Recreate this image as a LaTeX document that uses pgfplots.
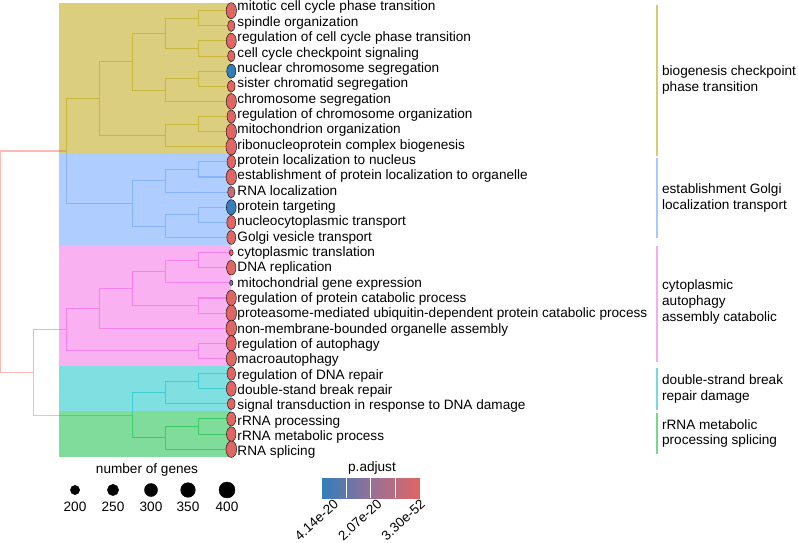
\documentclass[border=0pt]{standalone}
\usepackage{pgfplots}
\pgfplotsset{compat=1.18}
\usepackage{fontspec}
\setmainfont{Liberation Sans}
\definecolor{cRoot}{HTML}{F8766D}
\definecolor{cYel}{HTML}{B79F00}
\definecolor{cGre}{HTML}{00BA38}
\definecolor{cCya}{HTML}{00BFC4}
\definecolor{cBlu}{HTML}{619CFF}
\definecolor{cPin}{HTML}{F564E3}
\newcommand\fs{\fontsize{13.6}{15.6}\selectfont}
\pgfplotsset{colormap={pv}{rgb255(0cm)=(224,102,99); rgb255(0.5cm)=(149,113,150); rgb255(1cm)=(50,126,186)}}
\begin{document}
\begin{tikzpicture}
\begin{axis}[
  set layers=standard,
  at={(0.3pt,85.26pt)}, anchor=south west,
  scale only axis, width=231pt, height=453.6pt,
  xmin=0, xmax=7, ymin=0.5, ymax=30.5, y dir=reverse,
  clip=false,
  axis line style={draw=none}, tick style={draw=none},
  xtick=\empty,
  ytick={1.0198,2.0344,3.0489,4.0635,5.0780,6.0926,7.1071,8.1217,9.1362,10.1508,11.1653,12.1799,13.1944,14.2090,15.2235,16.2381,17.2526,18.2672,19.2817,20.2963,21.3108,22.3254,23.3399,24.3545,25.3690,26.3836,27.3981,28.4127,29.4272,30.4418},
  yticklabels={mitotic cell cycle phase transition,spindle organization,regulation of cell cycle phase transition,cell cycle checkpoint signaling,nuclear chromosome segregation,sister chromatid segregation,chromosome segregation,regulation of chromosome organization,mitochondrion organization,ribonucleoprotein complex biogenesis,protein localization to nucleus,establishment of protein localization to organelle,RNA localization,protein targeting,nucleocytoplasmic transport,Golgi vesicle transport,cytoplasmic translation,DNA replication,mitochondrial gene expression,regulation of protein catabolic process,proteasome-mediated ubiquitin-dependent protein catabolic process,non-membrane-bounded organelle assembly,regulation of autophagy,macroautophagy,regulation of DNA repair,double-stand break repair,signal transduction in response to DNA damage,rRNA processing,rRNA metabolic process,RNA splicing},
  yticklabel pos=right,
  yticklabel style={anchor=base west, inner xsep=0pt, xshift=6pt, font=\fs},
  unbounded coords=jump,
  colormap name=pv,
  point meta min=0, point meta max=4.68,
]
% ---- tree edges (elbows: parent -> child), coloured by child's cluster
\addplot[cRoot, draw opacity=0.5, line width=1.1pt] coordinates {
(0,17.6015625) (0,10.28125) (2,10.28125) (nan,nan)
(0,17.6015625) (0,24.921875) (1,24.921875) (nan,nan)
(1,24.921875) (1,27.75) (4,27.75)
};
\addplot[cYel, draw opacity=0.5, line width=1.1pt] coordinates {
(2,10.28125) (2,6.8125) (3,6.8125) (nan,nan)
(3,6.8125) (3,4.375) (4,4.375) (nan,nan)
(3,6.8125) (3,9.25) (5,9.25) (nan,nan)
(4,4.375) (4,2.5) (5,2.5) (nan,nan)
(4,4.375) (4,6.25) (5,6.25) (nan,nan)
(5,2.5) (5,1.5) (6,1.5) (nan,nan)
(5,2.5) (5,3.5) (6,3.5) (nan,nan)
(6,1.5) (6,1) (7,1) (nan,nan)
(6,1.5) (6,2) (7,2) (nan,nan)
(6,3.5) (6,3) (7,3) (nan,nan)
(6,3.5) (6,4) (7,4) (nan,nan)
(5,6.25) (5,5.5) (6,5.5) (nan,nan)
(5,6.25) (5,7) (7,7) (nan,nan)
(6,5.5) (6,5) (7,5) (nan,nan)
(6,5.5) (6,6) (7,6) (nan,nan)
(5,9.25) (5,8.5) (6,8.5) (nan,nan)
(5,9.25) (5,10) (7,10) (nan,nan)
(6,8.5) (6,8) (7,8) (nan,nan)
(6,8.5) (6,9) (7,9)
};
\addplot[cBlu, draw opacity=0.5, line width=1.1pt] coordinates {
(2,10.28125) (2,13.75) (4,13.75) (nan,nan)
(4,13.75) (4,12.25) (5,12.25) (nan,nan)
(4,13.75) (4,15.25) (5,15.25) (nan,nan)
(5,12.25) (5,11.5) (6,11.5) (nan,nan)
(5,12.25) (5,13) (7,13) (nan,nan)
(6,11.5) (6,11) (7,11) (nan,nan)
(6,11.5) (6,12) (7,12) (nan,nan)
(5,15.25) (5,14.5) (6,14.5) (nan,nan)
(5,15.25) (5,16) (7,16) (nan,nan)
(6,14.5) (6,14) (7,14) (nan,nan)
(6,14.5) (6,15) (7,15)
};
\addplot[cPin, draw opacity=0.6, line width=1.1pt] coordinates {
(1,24.921875) (1,22.09375) (2,22.09375) (nan,nan)
(2,22.09375) (2,20.6875) (3,20.6875) (nan,nan)
(2,22.09375) (2,23.5) (6,23.5) (nan,nan)
(3,20.6875) (3,19.375) (4,19.375) (nan,nan)
(3,20.6875) (3,22) (7,22) (nan,nan)
(4,19.375) (4,18.25) (5,18.25) (nan,nan)
(4,19.375) (4,20.5) (6,20.5) (nan,nan)
(5,18.25) (5,17.5) (6,17.5) (nan,nan)
(5,18.25) (5,19) (7,19) (nan,nan)
(6,17.5) (6,17) (7,17) (nan,nan)
(6,17.5) (6,18) (7,18) (nan,nan)
(6,20.5) (6,20) (7,20) (nan,nan)
(6,20.5) (6,21) (7,21) (nan,nan)
(6,23.5) (6,23) (7,23) (nan,nan)
(6,23.5) (6,24) (7,24)
};
\addplot[cCya, draw opacity=0.5, line width=1.1pt] coordinates {
(4,27.75) (4,26.25) (5,26.25) (nan,nan)
(5,26.25) (5,25.5) (6,25.5) (nan,nan)
(5,26.25) (5,27) (7,27) (nan,nan)
(6,25.5) (6,25) (7,25) (nan,nan)
(6,25.5) (6,26) (7,26)
};
\addplot[cGre, draw opacity=0.5, line width=1.1pt] coordinates {
(4,27.75) (4,29.25) (5,29.25) (nan,nan)
(5,29.25) (5,28.5) (6,28.5) (nan,nan)
(5,29.25) (5,30) (7,30) (nan,nan)
(6,28.5) (6,28) (7,28) (nan,nan)
(6,28.5) (6,29) (7,29)
};
% ---- cluster highlight rectangles
\addplot[draw=none, fill=cYel, fill opacity=0.5] coordinates {(1.78,0.5) (7,0.5) (7,10.5) (1.78,10.5)} -- cycle;
\addplot[draw=none, fill=cBlu, fill opacity=0.5] coordinates {(1.78,10.5) (7,10.5) (7,16.5) (1.78,16.5)} -- cycle;
\addplot[draw=none, fill=cPin, fill opacity=0.5] coordinates {(1.78,16.5) (7,16.5) (7,24.5) (1.78,24.5)} -- cycle;
\addplot[draw=none, fill=cCya, fill opacity=0.5] coordinates {(1.78,24.5) (7,24.5) (7,27.5) (1.78,27.5)} -- cycle;
\addplot[draw=none, fill=cGre, fill opacity=0.5] coordinates {(1.78,27.5) (7,27.5) (7,30.5) (1.78,30.5)} -- cycle;
% ---- tip points: size = number of genes, colour = p.adjust
\addplot[scatter, only marks, mark=*,
  point meta={\thisrow{padj}*1e20},
  scatter/use mapped color={draw=none, fill=mapped color},
  visualization depends on={value \thisrow{genes} \as \ng},
  scatter/@pre marker code/.append style={/tikz/mark size={0.5*sqrt(0.8475*\ng-83)}},
  mark options={xscale=0.65}]
table {
x y genes padj
7 1 400 1.2e-45
7 2 250 2.1e-30
7 3 380 5.0e-40
7 4 250 3.4e-31
7 5 330 4.68e-20
7 6 260 1.1e-33
7 7 390 2.6e-44
7 8 300 7.5e-36
7 9 400 1.8e-41
7 10 420 3.30e-52
7 11 300 4.2e-35
7 12 400 6.3e-43
7 13 250 7.5e-21
7 14 370 4.55e-20
7 15 320 9.8e-37
7 16 320 2.2e-34
7 17 140 1.5e-30
7 18 350 3.1e-39
7 19 130 2.85e-20
7 20 380 4.4e-42
7 21 410 8.1e-47
7 22 410 1.9e-45
7 23 380 5.6e-40
7 24 390 2.7e-41
7 25 300 6.6e-33
7 26 370 1.3e-38
7 27 260 3.9e-29
7 28 330 2.4e-37
7 29 350 5.2e-39
7 30 420 9.7e-49
};
% ---- size legend
\addplot[scatter, only marks, mark=*,
  point meta=explicit,
  scatter/use mapped color={draw=none, fill=black},
  visualization depends on={value \thisrow{genes} \as \ng},
  scatter/@pre marker code/.append style={/tikz/mark size={0.5*sqrt(0.8475*\ng-83)}}]
table[meta=m] {
x y genes m
2.264 32.70 200 0
3.415 32.70 250 0
4.567 32.70 300 0
5.688 32.70 350 0
6.870 32.70 400 0
};
\node[font=\fs] at (axis cs:4.445,31.377) {number of genes};
\node[font=\fs] at (axis cs:2.264,33.82) {200};
\node[font=\fs] at (axis cs:3.415,33.82) {250};
\node[font=\fs] at (axis cs:4.567,33.82) {300};
\node[font=\fs] at (axis cs:5.688,33.82) {350};
\node[font=\fs] at (axis cs:6.870,33.82) {400};
\node[font=\fs] at (axis cs:11.264,31.245) {p.adjust};
% ---- cluster label bars
\addplot[cYel!55!white, line width=2pt] coordinates {(19.9,0.623) (19.9,10.61)};
\addplot[cBlu!55!white, line width=2pt] coordinates {(19.9,10.74) (19.9,16.03)};
\addplot[cPin!55!white, line width=2pt] coordinates {(19.9,16.56) (19.9,24.23)};
\addplot[cCya!55!white, line width=2pt] coordinates {(19.9,24.63) (19.9,27.41)};
\addplot[cGre!55!white, line width=2pt] coordinates {(19.9,27.61) (19.9,30.32)};
\node[font=\fs, anchor=west, align=left, inner xsep=0pt] at (axis cs:20.05,5.583) {biogenesis checkpoint\\phase transition};
\node[font=\fs, anchor=west, align=left, inner xsep=0pt] at (axis cs:20.05,13.39) {establishment Golgi\\localization transport};
\node[font=\fs, anchor=west, align=left, inner xsep=0pt] at (axis cs:20.05,20.27) {cytoplasmic\\autophagy\\assembly catabolic};
\node[font=\fs, anchor=west, align=left, inner xsep=0pt] at (axis cs:20.05,26.0) {double-strand break\\repair damage};
\node[font=\fs, anchor=west, align=left, inner xsep=0pt] at (axis cs:20.05,28.97) {rRNA metabolic\\processing splicing};
\end{axis}
% ---- p.adjust colour bar (left = largest p.adjust)
\begin{axis}[
  at={(321.7pt,44pt)}, anchor=south west,
  scale only axis, width=98pt, height=20pt,
  xmin=0, xmax=4.68, ymin=0, ymax=1,
  view={0}{90},
  colormap name=pv, point meta min=0, point meta max=4.68,
  axis line style={draw=none}, tick style={draw=none},
  ytick=\empty, ztick=\empty,
  xtick={0.54,2.61,4.68}, xticklabels={4.14e-20,2.07e-20,3.30e-52},
  tick label style={font=\fontsize{13.4}{15}\selectfont},
  xticklabel style={rotate=42, anchor=north east, inner sep=0.5pt},
]
\addplot3[surf, shader=interp, point meta={4.68-x}, mesh/rows=2] coordinates {
(0,0,0) (4.68,0,0)

(0,1,0) (4.68,1,0)
};
\draw[white,line width=0.8pt] (axis cs:1.17,0,0) -- (axis cs:1.17,1,0);
\draw[white,line width=0.8pt] (axis cs:2.34,0,0) -- (axis cs:2.34,1,0);
\draw[white,line width=0.8pt] (axis cs:3.51,0,0) -- (axis cs:3.51,1,0);
\end{axis}
\pgfresetboundingbox
\path[use as bounding box] (0,0) rectangle (798pt,542pt);
\end{tikzpicture}
\end{document}
